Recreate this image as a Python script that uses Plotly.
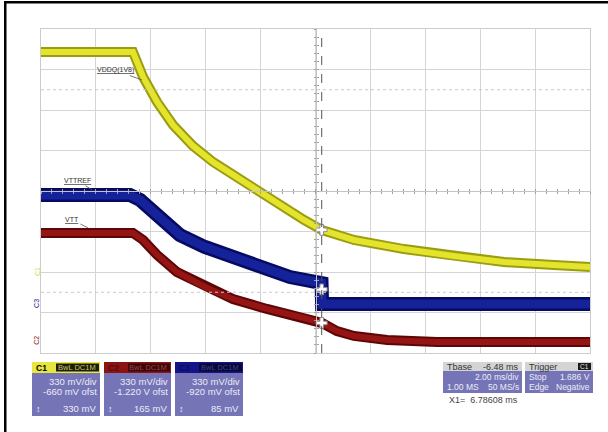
import numpy as np
import plotly.graph_objects as go

# ---------------- data (time in ms, voltages in V) ----------------
t_vddq = [-3.44, -0.09, 0.28, 0.79, 1.37, 2.10, 2.83, 3.55, 4.28, 5.16, 5.63, 6.14,
          6.80, 7.96, 9.78, 11.61, 13.43, 15.25, 16.56]
v_vddq = [1.793, 1.793, 1.589, 1.385, 1.198, 1.027, 0.896, 0.790, 0.693, 0.562, 0.497,
          0.424, 0.342, 0.261, 0.187, 0.130, 0.081, 0.057, 0.041]

t_vttref = [-3.44, -0.20, 0.17, 0.53, 0.90, 1.62, 2.53, 3.55, 4.79, 5.63, 6.78, 6.80, 16.56]
v_vttref = [0.887, 0.887, 0.847, 0.781, 0.700, 0.561, 0.464, 0.382, 0.293, 0.219, 0.170,
            0.000, 0.000]

t_vtt = [-3.44, -0.09, 0.28, 0.79, 1.51, 2.61, 3.55, 4.79, 6.14, 6.80, 7.34, 7.96, 9.17,
         10.99, 16.56]
v_vtt = [0.878, 0.878, 0.821, 0.699, 0.560, 0.430, 0.340, 0.259, 0.185, 0.144, 0.079,
         0.039, 0.006, -0.010, -0.010]

# channel settings
ch_names = ["C1", "C2", "C3"]
volts_per_div = [0.33, 0.33, 0.33]
offsets = [-0.660, -1.220, -0.920]
ch_offset_text = ["-660 mV ofst", "-1.220 V ofst", "-920 mV ofst"]
ch_level_text = ["330 mV", "165 mV", "85 mV"]
time_per_div = 2.0
t_left = -3.44
cursor_x1 = 6.78608
trigger_level = 1.686

# ---------------- geometry ----------------
W, H = 608, 432
L, R, T, B = 41, 590, 29, 353


def xp(px):
    return (px - L) / (R - L)


def yp(py):
    return (B - py) / (B - T)


def yrange(i):
    c = -offsets[i]
    return [c - 4 * volts_per_div[i], c + 4 * volts_per_div[i]]


YEL, YEL_D = "#e4e42c", "#9c9c12"
RED, RED_D = "#951515", "#5e0606"
BLU, BLU_D = "#16229a", "#060a62"
BODY = "#7474b6"
GRID = "#d4d4d4"

fig = go.Figure()

# dummy traces to register center axes
fig.add_trace(go.Scatter(x=[None], y=[None], xaxis="x2", yaxis="y", showlegend=False))
fig.add_trace(go.Scatter(x=[None], y=[None], xaxis="x3", yaxis="y", showlegend=False))
fig.add_trace(go.Scatter(x=[None], y=[None], xaxis="x", yaxis="y4", showlegend=False))
fig.add_trace(go.Scatter(x=[None], y=[None], xaxis="x", yaxis="y5", showlegend=False))


def band(t, v, yaxis, c_out, c_in, w_out, w_in):
    fig.add_trace(go.Scatter(x=t, y=v, yaxis=yaxis, mode="lines", showlegend=False,
                             line=dict(color=c_out, width=w_out), hoverinfo="skip"))
    fig.add_trace(go.Scatter(x=t, y=v, yaxis=yaxis, mode="lines", showlegend=False,
                             line=dict(color=c_in, width=w_in), hoverinfo="skip"))


band(t_vddq, v_vddq, "y", YEL_D, YEL, 10, 6)
band(t_vtt, v_vtt, "y2", RED_D, RED, 10, 6)
band(t_vttref, v_vttref, "y3", BLU_D, BLU, 14, 9)

# cursor intersection markers
for t, v, ax in [(t_vddq, v_vddq, "y"), (t_vttref, v_vttref, "y3"), (t_vtt, v_vtt, "y2")]:
    fig.add_trace(go.Scatter(x=[cursor_x1], y=[float(np.interp(cursor_x1, t, v))], yaxis=ax,
                             mode="markers", showlegend=False, hoverinfo="skip",
                             marker=dict(symbol="cross", size=9, color="white",
                                         line=dict(color="#8a8a8a", width=1))))

# trigger position marker (bottom) and trigger level marker (right)
r1 = yrange(0)
fig.add_trace(go.Scatter(x=[0.0], y=[r1[0] - 0.03], yaxis="y", mode="markers",
                         cliponaxis=False, showlegend=False, hoverinfo="skip",
                         marker=dict(symbol="triangle-up", size=6, color="#e6e640")))
fig.add_trace(go.Scatter(x=[t_left + 10 * time_per_div + 0.15], y=[1.79], yaxis="y",
                         mode="markers", cliponaxis=False, showlegend=False, hoverinfo="skip",
                         marker=dict(symbol="triangle-left", size=6, color="#e6e640")))

xr = [t_left, t_left + 10 * time_per_div]
common_hidden = dict(showgrid=False, zeroline=False, showticklabels=False)

fig.update_layout(
    width=W, height=H,
    margin=dict(l=L, r=W - R, t=T, b=H - B),
    paper_bgcolor="white", plot_bgcolor="white",
    showlegend=False,
    font=dict(family="Liberation Sans, Arial, sans-serif", size=8),
    xaxis=dict(range=xr, tick0=t_left, dtick=time_per_div, showgrid=True, gridcolor=GRID,
               gridwidth=1, zeroline=False, showticklabels=False, ticks="",
               showline=True, mirror=True, linecolor="#cccccc", linewidth=1),
    yaxis=dict(range=yrange(0), tick0=yrange(0)[0], dtick=volts_per_div[0], showgrid=True,
               gridcolor=GRID, gridwidth=1, zeroline=False, showticklabels=False, ticks="",
               showline=True, mirror=True, linecolor="#cccccc", linewidth=1),
    yaxis2=dict(range=yrange(1), overlaying="y", visible=False),
    yaxis3=dict(range=yrange(2), overlaying="y", visible=False),
    xaxis2=dict(range=xr, overlaying="x", anchor="free", position=0.5, showline=True,
                linecolor="#c4c4c4", ticks="outside", ticklen=2, tickcolor="#a0a0a0",
                tick0=t_left, dtick=time_per_div / 5, **common_hidden),
    xaxis3=dict(range=xr, overlaying="x", anchor="free", position=0.5, showline=False,
                ticks="inside", ticklen=2, tickcolor="#a0a0a0",
                tick0=t_left, dtick=time_per_div / 5, **common_hidden),
    yaxis4=dict(range=yrange(0), overlaying="y", anchor="free", position=0.5, showline=True,
                linecolor="#c4c4c4", ticks="outside", ticklen=2, tickcolor="#a0a0a0",
                tick0=yrange(0)[0], dtick=volts_per_div[0] / 5, **common_hidden),
    yaxis5=dict(range=yrange(0), overlaying="y", anchor="free", position=0.5, showline=False,
                ticks="inside", ticklen=2, tickcolor="#a0a0a0",
                tick0=yrange(0)[0], dtick=volts_per_div[0] / 5, **common_hidden),
)

shapes = []
annos = []

# dotted reference lines
for lvl in [yrange(0)[0] + 6.5 * volts_per_div[0], yrange(0)[0] + 1.5 * volts_per_div[0]]:
    shapes.append(dict(type="line", xref="paper", yref="y", x0=0, x1=1, y0=lvl, y1=lvl,
                       line=dict(color="#c8c8c8", width=1, dash="dot")))

# cursor
shapes.append(dict(type="line", xref="x", yref="paper", x0=cursor_x1, x1=cursor_x1, y0=0, y1=1,
                   line=dict(color="#555555", width=1, dash="dash")))


def rect(x0, y0, x1, y1, color):
    shapes.append(dict(type="rect", xref="paper", yref="paper", x0=xp(x0), x1=xp(x1),
                       y0=yp(y1), y1=yp(y0), fillcolor=color, line=dict(width=0), layer="above"))


# outer frame (top + left)
rect(4, 1, 608, 3.5, "black")
rect(4, 1, 6.5, 432, "black")


def txt(px, py, s, anchor="left", color="#ececf6", size=9, **kw):
    annos.append(dict(xref="paper", yref="paper", x=xp(px), y=yp(py), text=s, showarrow=False,
                      xanchor=anchor, yanchor="middle", font=dict(color=color, size=size),
                      **kw))


# trace labels
def label(s, t, v, yref, ax, ay):
    annos.append(dict(x=t, y=v, xref="x", yref=yref, text="<u>" + s + "</u>", showarrow=True,
                      arrowhead=0, arrowwidth=0.8, arrowcolor="#555555", ax=ax, ay=ay,
                      standoff=0, font=dict(size=7, color="#333333")))


label("VDDQ(1V8)", 0.24, 1.564, "y", -27, -10)
label("VTTREF", -1.58, 0.93, "y3", -15, -9)
label("VTT", -1.73, 0.92, "y2", -16, -8)

# channel ground markers
for i, col in enumerate(["#d8d840", "#8a1010", "#14148a"]):
    annos.append(dict(xref="paper", yref="y" if i == 0 else "y%d" % (i + 1), x=xp(37), y=0.0,
                      text=ch_names[i], showarrow=False, textangle=-90,
                      font=dict(size=7, color=col), xanchor="center", yanchor="middle"))

# channel info boxes
hdr_cols = ["#e6e63c", "#8a1414", "#14148a"]
tag_cols = ["#1c1c08", "#3a0808", "#080830"]
tag_txt = ["#c8c870", "#a04040", "#4040a0"]
lbl_cols = ["#000000", "#5a0a0a", "#0a0a5a"]
box_x = [(32, 100), (104, 171), (175, 243)]
for i, (x0, x1) in enumerate(box_x):
    rect(x0, 362, x1, 373, hdr_cols[i])
    rect(x0 + 24, 363.5, x1 - 1, 371.5, tag_cols[i])
    rect(x0, 373, x1, 416, BODY)
    txt(x0 + 2, 367.5, "<b>" + ch_names[i] + "</b>", "left", lbl_cols[i], 8.5)
    txt(x1 - 2, 367.5, "BwL DC1M", "right", tag_txt[i], 7.5)
    txt(x1 - 1, 381, "%d mV/div" % round(volts_per_div[i] * 1000), "right", size=9.5)
    txt(x1 - 1, 391, ch_offset_text[i], "right", size=9.5)
    txt(x1 - 2, 409, ch_level_text[i], "right", size=9.5)
    txt(x0 + 2, 409, "↕", "left", "#f0f0f8", 9)

# timebase box
rect(443, 362, 522, 371, "#d4d4d4")
rect(443, 371, 522, 393, BODY)
txt(445, 366.5, "Tbase", "left", "#333333", 9)
txt(521, 366.5, "%.2f ms" % (-6.48), "right", "#333333", 9)
txt(521, 377, "%.2f ms/div" % time_per_div, "right", size=8.5)
txt(445, 387, "1.00 MS", "left", size=8.5)
txt(521, 387, "50 MS/s", "right", size=8.5)

# trigger box
rect(525, 362, 593, 371, "#d4d4d4")
rect(578, 363, 591, 370, "#1a1a1a")
rect(525, 371, 593, 393, BODY)
txt(527, 366.5, "Trigger", "left", "#333333", 9)
txt(584.5, 366.5, "C1", "center", "#e0e0e0", 6.5)
txt(527, 377, "Stop", "left", size=8.5)
txt(592, 377, "%.3f V" % trigger_level, "right", size=8.5)
txt(527, 387, "Edge", "left", size=8.5)
txt(592, 387, "Negative", "right", size=8.5)

txt(447, 400, "X1=  %.5f ms" % cursor_x1, "left", "#444444", 9)

fig.update_layout(shapes=shapes, annotations=annos)
fig.write_html("out.html", config={"displayModeBar": False},
               post_script="document.body.style.margin='0';")
